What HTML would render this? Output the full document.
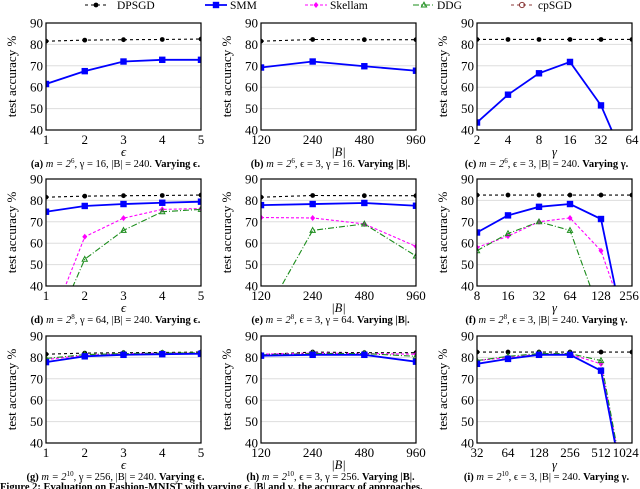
<!DOCTYPE html>
<html><head><meta charset="utf-8"><style>
html,body{margin:0;background:#fff;width:640px;height:489px;overflow:hidden}
svg{font-family:"Liberation Serif",serif;display:block;overflow:hidden}
</style></head><body>
<svg id="fig" width="640" height="489" xmlns="http://www.w3.org/2000/svg"></svg>
<script>
const legendNames=["DPSGD","SMM","Skellam","DDG","cpSGD"];
const xA=["1","2","3","4","5"];
const xB=["120","240","480","960"];
const xC=["2","4","8","16","32","64"];
const xF=["8","16","32","64","128","256"];
const xI=["32","64","128","256","512","1024"];
const yTicks=[40,50,60,70,80,90];
const aDP=[81.5,82,82.2,82.3,82.5], aSMM=[61.5,67.5,72,72.8,72.8];
const bDP=[81.5,82.3,82.2,82.2], bSMM=[69.2,72,69.8,67.7];
const cDP=[82.3,82.3,82.3,82.3,82.3,82.3], cSMM=[43.5,56.5,66.5,71.8,51.5,18];
const dDP=[81.5,82,82.2,82.3,82.5], dSMM=[74.7,77.4,78.3,78.9,79.4], dSK=[17,63,71.7,75.8,76.2], dDDG=[11,52.5,66,74.7,75.8];
const eDP=[81.5,82.3,82.2,82.2], eSMM=[77.8,78.3,78.8,77.5], eSK=[72,71.8,69,58.5], eDDG=[23,66,69,54];
const fDP=[82.5,82.5,82.5,82.5,82.5,82.5], fSMM=[65,73,77,78.3,71.3,1.7], fSK=[58,63.3,70,71.8,56.5,15], fDDG=[56.5,64.5,70,66,26,0];
const gDP=[81.5,82,82.2,82.3,82.5], gSMM=[77.8,80.5,81.2,81.5,81.7], gSK=[79,81,81.7,82,82], gDDG=[79.5,81.3,81.8,82,82.2];
const hDP=[81.3,82.5,82.2,82.2], hSMM=[80.8,81.2,81.2,78], hSK=[81.5,82,81.8,81.5], hDDG=[81.2,81.8,81.8,80.5];
const iDP=[82.5,82.5,82.5,82.5,82.5,82.5], iSMM=[77,79.3,81.2,81.2,73.8,-1], iSK=[78.5,80,81.5,81.5,77,0], iDDG=[78.5,80.5,81.8,81.8,78.5,0];

const NS="http://www.w3.org/2000/svg";
const svg=document.getElementById('fig');
function mk(t,a,p){const e=document.createElementNS(NS,t);for(const k in a)e.setAttribute(k,a[k]);(p||svg).appendChild(e);return e;}
const STY={
 DPSGD:{c:"#000",w:1.1,d:"3,3",m:"circle"},
 SMM:{c:"#0000ff",w:1.8,d:"",m:"square"},
 Skellam:{c:"#ff00ff",w:1.1,d:"3,2",m:"diamond"},
 DDG:{c:"#1a8c1a",w:1.1,d:"6,2,1,2",m:"tri"},
 cpSGD:{c:"#8b3a3a",w:1.1,d:"3,3",m:"ocircle"}};
function marker(g,type,x,y,c){
 if(type=="circle")mk('circle',{cx:x,cy:y,r:2.4,fill:c},g);
 else if(type=="square")mk('rect',{x:x-3.2,y:y-3.2,width:6.4,height:6.4,fill:c},g);
 else if(type=="diamond")mk('path',{d:`M${x} ${y-3}L${x+2.5} ${y}L${x} ${y+3}L${x-2.5} ${y}Z`,fill:c},g);
 else if(type=="tri")mk('path',{d:`M${x} ${y-2.8}L${x+2.6} ${y+2}L${x-2.6} ${y+2}Z`,fill:"none",stroke:c,"stroke-width":1},g);
 else mk('circle',{cx:x,cy:y,r:2.6,fill:"none",stroke:c,"stroke-width":1},g);
}
const legX=[[85,117],[205,230],[305,330],[413,437],[511,538]];
legendNames.forEach((n,i)=>{
 const s=STY[n];const g=mk('g',{});
 
 
 const[x0,tx]=legX[i];
 mk('line',{x1:x0,x2:x0+22,y1:5,y2:5,stroke:s.c,"stroke-width":s.w,"stroke-dasharray":s.d},g);
 marker(g,s.m,x0+11,5,s.c);
 const t=mk('text',{x:tx,y:9,"font-size":11.5,fill:"#000"},g);t.textContent=n;
});
const cols=[46,261,477], rows=[23,179,336], W=155, H=107;
const panels=[
 {r:0,c:0,x:xA,xl:"ϵ",s:{DPSGD:aDP,SMM:aSMM},cap:["(a)"," m = 2","6",", γ = 16, |B| = 240. ","Varying ϵ."]},
 {r:0,c:1,x:xB,xl:"|B|",s:{DPSGD:bDP,SMM:bSMM},cap:["(b)"," m = 2","6",", ϵ = 3, γ = 16. ","Varying |B|."]},
 {r:0,c:2,x:xC,xl:"γ",s:{DPSGD:cDP,SMM:cSMM},cap:["(c)"," m = 2","6",", ϵ = 3, |B| = 240. ","Varying γ."]},
 {r:1,c:0,x:xA,xl:"ϵ",s:{DPSGD:dDP,Skellam:dSK,DDG:dDDG,SMM:dSMM},cap:["(d)"," m = 2","8",", γ = 64, |B| = 240. ","Varying ϵ."]},
 {r:1,c:1,x:xB,xl:"|B|",s:{DPSGD:eDP,Skellam:eSK,DDG:eDDG,SMM:eSMM},cap:["(e)"," m = 2","8",", ϵ = 3, γ = 64. ","Varying |B|."]},
 {r:1,c:2,x:xF,xl:"γ",s:{DPSGD:fDP,Skellam:fSK,DDG:fDDG,SMM:fSMM},cap:["(f)"," m = 2","8",", ϵ = 3, |B| = 240. ","Varying γ."]},
 {r:2,c:0,x:xA,xl:"ϵ",s:{DPSGD:gDP,Skellam:gSK,DDG:gDDG,SMM:gSMM},cap:["(g)"," m = 2","10",", γ = 256, |B| = 240. ","Varying ϵ."]},
 {r:2,c:1,x:xB,xl:"|B|",s:{DPSGD:hDP,Skellam:hSK,DDG:hDDG,SMM:hSMM},cap:["(h)"," m = 2","10",", ϵ = 3, γ = 256. ","Varying |B|."]},
 {r:2,c:2,x:xI,xl:"γ",s:{DPSGD:iDP,Skellam:iSK,DDG:iDDG,SMM:iSMM},cap:["(i)"," m = 2","10",", ϵ = 3, |B| = 240. ","Varying γ."]},
];
panels.forEach((p,pi)=>{
 const L=cols[p.c],T=rows[p.r],id="p"+pi;
 const g=mk('g',{});
 
 
 const xs=i=>L+i*W/(p.x.length-1);
 const ys=v=>T+H-(v-40)/50*H;
 const cp=mk('clipPath',{id:id},g);mk('rect',{x:L,y:T,width:W,height:H},cp);
 yTicks.forEach(v=>{
  if(v>40&&v<90)mk('line',{x1:L,x2:L+W,y1:ys(v),y2:ys(v),stroke:"#ddd","stroke-width":1},g);
  const t=mk('text',{x:L-3,y:ys(v)+4.5,"font-size":13,"text-anchor":"end"},g);t.textContent=v;
 });
 p.x.forEach((l,i)=>{
  const x=Math.min(xs(i),639-l.length*3.3);
  const t=mk('text',{x:x,y:T+H+14,"font-size":13,"text-anchor":"middle"},g);t.textContent=l;});
 const xl=mk('text',{x:L+W/2,y:T+H+26,"font-size":12.5,"text-anchor":"middle","font-style":"italic"},g);xl.textContent=p.xl;
 
 const yl=mk('text',{transform:`translate(${L-30},${T+H/2}) rotate(-90)`,"font-size":13,"text-anchor":"middle"},g);yl.textContent="test accuracy %";
 
 const sg=mk('g',{"clip-path":`url(#${id})`},g);
 for(const n in p.s){
  const s=STY[n],vals=p.s[n];
  const line=mk('polyline',{points:vals.map((v,i)=>xs(i)+","+ys(v)).join(" "),fill:"none",stroke:s.c,"stroke-width":s.w,"stroke-dasharray":s.d},sg);
  
  
  vals.forEach((v,i)=>{if(v>=40&&v<=90)marker(sg,s.m,xs(i),ys(v),s.c);});
 }
 mk('rect',{x:L,y:T,width:W,height:H,fill:"none",stroke:"#000","stroke-width":1.2},g);
 const c=mk('text',{x:L+W/2-8,y:T+H+37,"font-size":10.5,"text-anchor":"middle"},g);
 
 const a=mk('tspan',{"font-weight":"bold"},c);a.textContent=p.cap[0];
 const b=mk('tspan',{"font-style":"italic"},c);b.textContent=p.cap[1];
 const e=mk('tspan',{"font-size":7,dy:-4},c);e.textContent=p.cap[2];
 const f=mk('tspan',{dy:4},c);f.textContent=p.cap[3];
 const h=mk('tspan',{"font-weight":"bold"},c);h.textContent=p.cap[4];
});
const fc=mk('text',{x:0,y:490,"font-size":10.5,"font-weight":"bold"});

fc.textContent="Figure 2: Evaluation on Fashion-MNIST with varying ϵ, |B| and γ, the accuracy of approaches.";
</script>
</body></html>
